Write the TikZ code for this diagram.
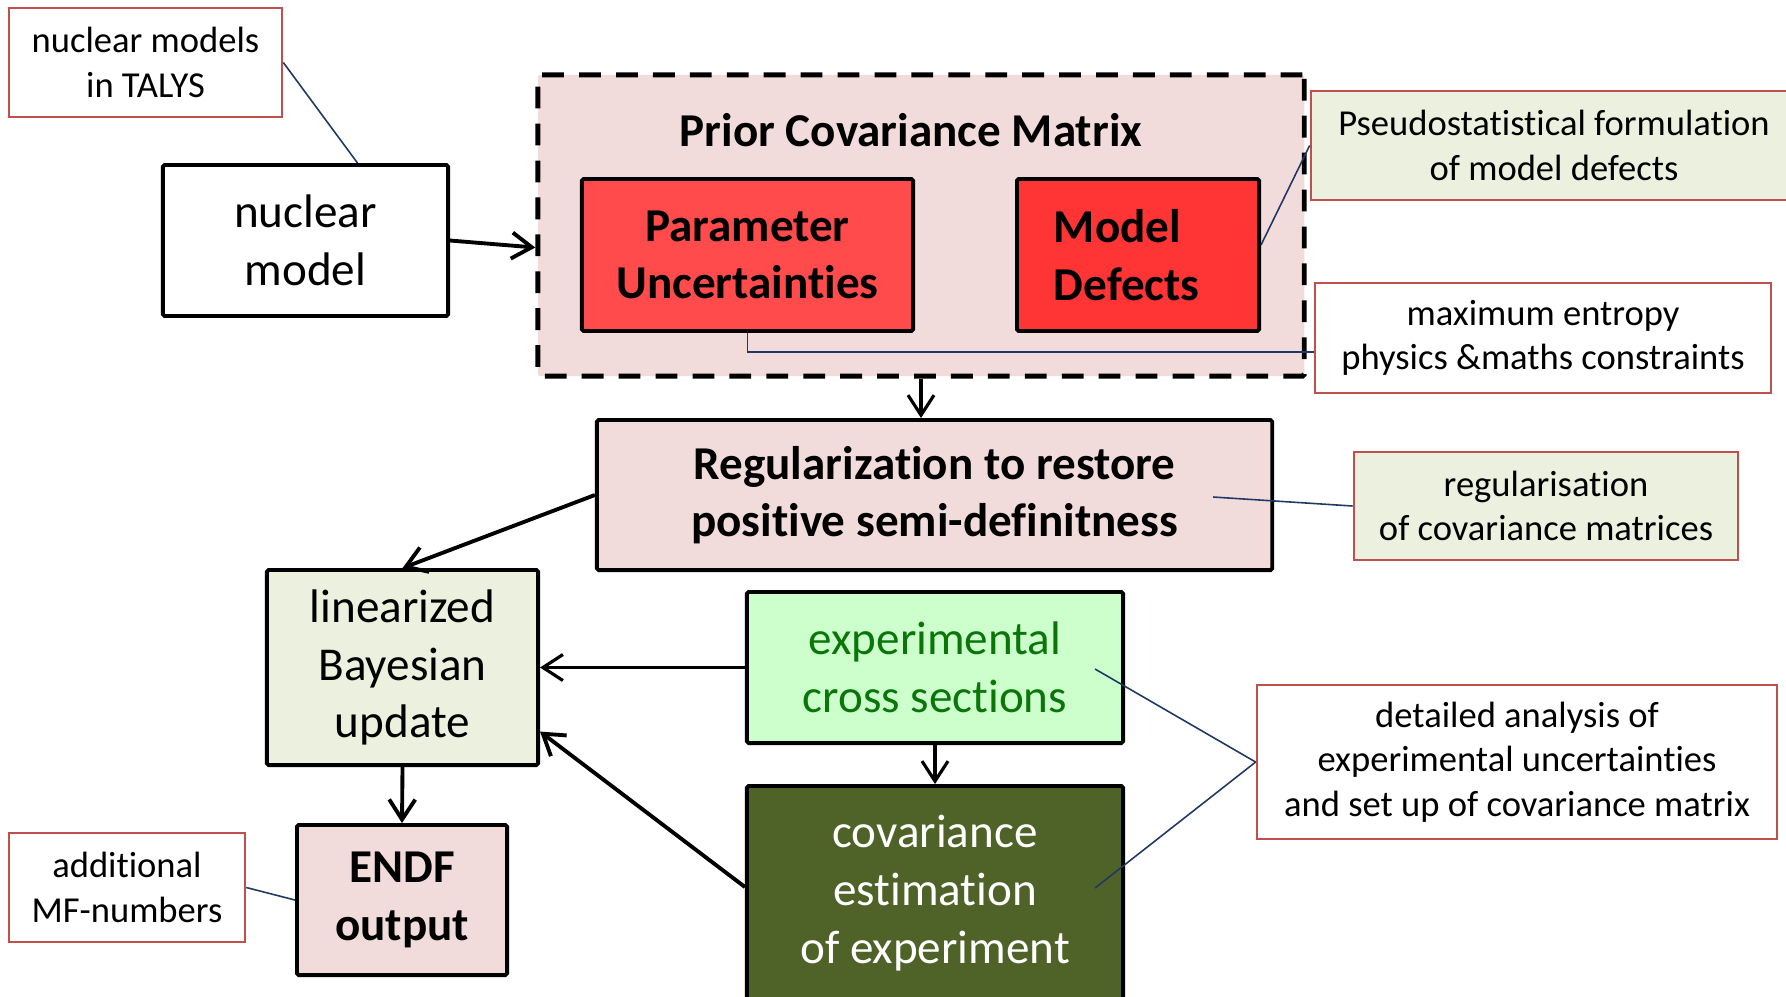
\documentclass[tikz,border=0pt]{standalone}
\usepackage{fontspec}
\setmainfont{Carlito}[Ligatures=NoCommon]
\usepackage{tikz}
\usetikzlibrary{arrows.meta}
\definecolor{pinkbox}{HTML}{F2DCDB}
\definecolor{redpar}{HTML}{FF4B4B}
\definecolor{reddef}{HTML}{FF3535}
\definecolor{linfill}{HTML}{EBF1DE}
\definecolor{expfill}{HTML}{CCFFCC}
\definecolor{expgreen}{HTML}{0A760A}
\definecolor{covfill}{HTML}{4F6228}
\definecolor{noteborder}{HTML}{C0504D}
\definecolor{calloutblue}{HTML}{1F3864}

\begin{document}
\begin{tikzpicture}[x=0.01cm,y=-0.01cm,
  big/.style={font=\fontsize{13.4}{16.4}\selectfont, align=center, inner sep=0pt},
  box/.style={big, draw, line width=1.1pt, rounded corners=0.5pt},
  boldbox/.style={box, font=\fontsize{13.4}{16.4}\selectfont\bfseries},
  note/.style={draw=noteborder, line width=0.7pt, font=\fontsize{10.4}{12.7}\selectfont, align=center, inner sep=0pt},
  flow/.style={line width=1.1pt, -{Straight Barb[length=2mm,width=2.6mm]}},
  thinflow/.style={flow, line width=0.9pt},
  callout/.style={draw=calloutblue, line width=0.45pt}]
\useasboundingbox (0,0) rectangle (1786,996);
\clip (0,0) rectangle (1786,996);
\node[box, line width=1.4pt, dash pattern=on 6.2pt off 4.3pt, fill=pinkbox, minimum width=7.66cm, minimum height=3.01cm] (prior) at (921,225.5) {};
\node[font=\fontsize{13.4}{16.4}\selectfont\bfseries] (title) at (911,130) {Prior Covariance Matrix};
\node[boldbox, fill=redpar, minimum width=3.31cm, minimum height=1.52cm] (param) at (747.5,255) {Parameter\\Uncertainties};
\node[boldbox, fill=reddef, minimum width=2.42cm, minimum height=1.52cm, text width=1.68cm, align=left] (defects) at (1138,255) {Model\\Defects};
\node[box, fill=white, minimum width=2.85cm, minimum height=1.51cm] (nucl) at (305.5,240.5) {nuclear\\model};
\node[boldbox, fill=pinkbox, minimum width=6.75cm, minimum height=1.50cm] (reg) at (934.5,495) {Regularization to restore\\positive semi-definitness};
\node[box, fill=linfill, minimum width=2.71cm, minimum height=1.95cm] (lin) at (402.5,667.5) {linearized\\Bayesian\\update};
\node[box, fill=expfill, text=expgreen, minimum width=3.76cm, minimum height=1.51cm] (exp) at (935,667.5) {experimental\\cross sections};
\node[box, fill=covfill, text=white, minimum width=3.76cm, minimum height=2.14cm] (cov) at (935,893) {covariance\\estimation\\of experiment};
\node[boldbox, fill=pinkbox, minimum width=2.10cm, minimum height=1.50cm] (endf) at (402,900) {ENDF\\output};
\node[note, fill=white, minimum width=2.73cm, minimum height=1.09cm] (talys) at (145.5,62.5) {nuclear models\\in TALYS};
\node[note, fill=linfill, minimum width=4.86cm, minimum height=1.09cm] (pseudo) at (1554,145.5) {Pseudostatistical formulation\\of model defects};
\node[note, fill=white, minimum width=4.56cm, minimum height=1.10cm] (maxent) at (1543,338) {maximum entropy\\physics \&maths constraints};
\node[note, fill=linfill, minimum width=3.84cm, minimum height=1.08cm] (regnote) at (1546,506) {regularisation\\of covariance matrices};
\node[note, fill=white, minimum width=5.20cm, minimum height=1.54cm] (detail) at (1517,762) {detailed analysis of\\experimental uncertainties\\and set up of covariance matrix};
\node[note, fill=white, minimum width=2.36cm, minimum height=1.09cm] (addmf) at (127,887.5) {additional\\MF-numbers};
\draw[flow] (nucl.east) -- ([yshift=-0.22cm]prior.west);
\draw[thinflow] (prior.south) -- (prior.south |- reg.north);
\draw[flow] (reg.west) -- (lin.north);
\draw[thinflow] (exp.west) -- (lin.east);
\draw[thinflow] (exp.south) -- (cov.north);
\draw[flow] ([yshift=0.06cm]cov.west) -- ([yshift=-0.64cm]lin.east);
\draw[flow] (lin.south) -- (endf.north);
\draw[callout] (talys.east) -- ([xshift=0.52cm]nucl.north);
\draw[callout] (pseudo.west) -- ([yshift=0.1cm]defects.east);
\draw[callout] ([yshift=-0.14cm]maxent.west) -| (param.south);
\draw[callout] (regnote.west) -- ([xshift=-0.61cm,yshift=-0.02cm]reg.east);
\draw[callout] (detail.west) -- ([xshift=-0.3cm,yshift=-0.015cm]exp.east);
\draw[callout] (detail.west) -- ([xshift=-0.3cm,yshift=0.05cm]cov.east);
\draw[callout] (addmf.east) -- (endf.west);
\end{tikzpicture}
\end{document}
